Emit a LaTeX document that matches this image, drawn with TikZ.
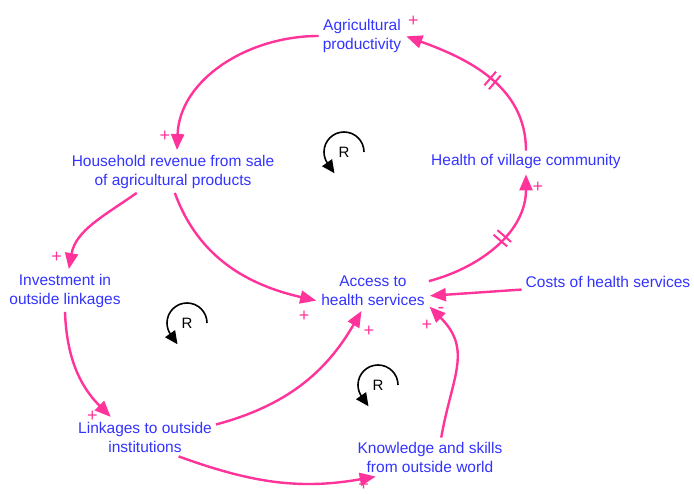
\documentclass[tikz,border=0pt]{standalone}
\usepackage{fontspec}
\setmainfont{Liberation Sans}
\usepackage{tikz}
\usetikzlibrary{arrows.meta,decorations.markings}
\definecolor{linkPink}{RGB}{255,51,153}
\definecolor{varBlue}{RGB}{51,51,255}

\begin{document}
\begin{tikzpicture}[->,>={Triangle[length=16pt,width=13pt]}, shorten >= 1pt, x=1pt, y=1pt, line width=2.4pt, color=linkPink]
        \tikzset{
           varNode/.style={
                        rectangle,
                        align=center,
                        inner sep=3pt,
                        font=\fontsize{15.5pt}{19pt}\selectfont,
                        text=varBlue
                       },
           polarity/.style={
                        inner sep=0pt,
                        font=\fontsize{18pt}{18pt}\selectfont,
                        text=linkPink
                       },
           delayMark/.style={
                        postaction={decorate,
                           decoration={markings, mark=at position #1 with {
                              \draw[-, shorten >=0pt, line width=2pt]
                                 (-3pt,-9pt) -- (-3pt,9pt)
                                 (3pt,-9pt)  -- (3pt,9pt);
                           }}}
                       },
           loopMark/.style={
                        inner sep=0pt,
                        font=\fontsize{15pt}{15pt}\selectfont,
                        text=black
                       },
           loopArrow/.style={
                        draw=black,
                        line width=1.6pt,
                        shorten >=0pt,
                        -{Triangle[length=13pt,width=12pt]}
                       },
                 };
        \useasboundingbox (0,0) rectangle (694,494);
    %--------------------
        \node[varNode] (agriProd)      at (362,458) {Agricultural\\productivity};
        \node[varNode] (hhRevenue)     at (173,322) {Household revenue from sale\\of agricultural products};
        \node[varNode] (villageHealth) at (526,332) {Health of village community};

        \node[varNode] (linkInvest)    at (65,203)  {Investment in\\outside linkages};
        \node[varNode] (healthAccess)  at (373,203) {Access to\\health services};
        \node[varNode] (healthCosts)   at (608,212) {Costs of health services};

        \node[varNode] (outsideLinks)  at (145,57)  {Linkages to outside\\institutions};
        \node[varNode] (outsideSkills) at (430,37)  {Knowledge and skills\\from outside world};

        \node[loopMark] (loopA)        at (344,342) {R};
        \node[loopMark] (loopB)        at (187,171) {R};
        \node[loopMark] (loopC)        at (378,109) {R};
    %--------------------
        \path (agriProd.west)       edge[out=180, in=88]  node[polarity, pos=1, xshift=-12pt, yshift=15pt] {+} ([xshift=4pt]hhRevenue.north)
              (villageHealth.north) edge[out=90, in=-20, delayMark=0.45]
                                                          node[polarity, pos=1, xshift=8pt, yshift=15pt]   {+} (agriProd.east)
              (healthAccess.10)     edge[out=15, in=-90, delayMark=0.55]
                                                          node[polarity, pos=1, xshift=12pt, yshift=-14pt] {+} (villageHealth.south)

              (hhRevenue.-150)      edge[out=215, in=80]  node[polarity, pos=1, xshift=-12pt, yshift=13pt] {+} (linkInvest.80)
              (hhRevenue.-85)       edge[out=-70, in=167] node[polarity, pos=1, xshift=-13pt, yshift=-15pt] {+} (healthAccess.-170)

              (linkInvest.south)    edge[out=-88, in=135] node[polarity, pos=1, xshift=-19pt, yshift=1pt]  {+} (outsideLinks.150)
              (outsideLinks.10)     edge[out=15, in=-120] node[polarity, pos=1, xshift=7pt, yshift=-21pt]  {+} (healthAccess.-120)
              (outsideLinks.-30)    edge[out=-20, in=190] node[polarity, pos=1, xshift=-13pt, yshift=-9pt] {+} (outsideSkills.-160)
              (outsideSkills.60)    edge[out=80, in=-45, looseness=1.2]
                                                          node[polarity, pos=1, xshift=-2pt, yshift=-19pt] {+} (healthAccess.-15)

              (healthCosts.-175)    edge                  node[polarity, pos=1, xshift=12pt, yshift=-15pt, font=\fontsize{20pt}{20pt}\selectfont] {-} (healthAccess.-5);
    %--------------------
        \draw[loopArrow] ([shift={(0:20pt)}]loopA.center) arc[start angle=0, end angle=215, radius=20pt] -- ++(-55:12pt);
        \draw[loopArrow] ([shift={(0:20pt)}]loopB.center) arc[start angle=0, end angle=215, radius=20pt] -- ++(-55:12pt);
        \draw[loopArrow] ([shift={(0:20pt)}]loopC.center) arc[start angle=0, end angle=215, radius=20pt] -- ++(-55:12pt);
    \end{tikzpicture}
\end{document}
